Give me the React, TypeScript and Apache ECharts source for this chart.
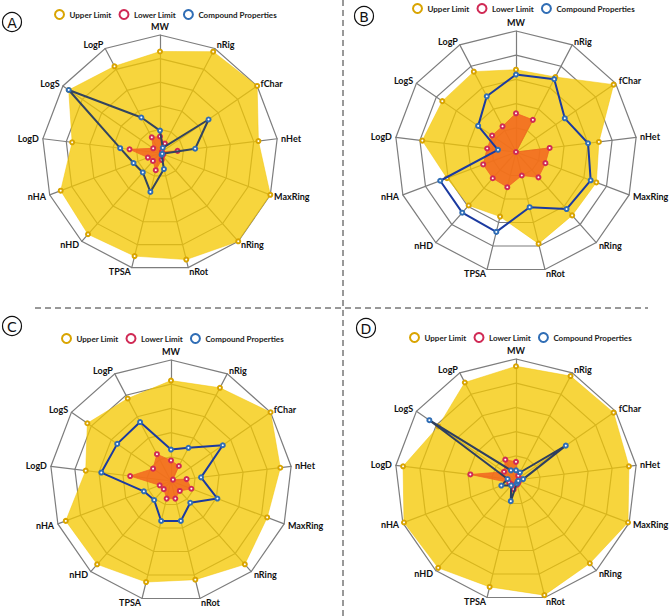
import React, { useEffect, useRef } from "react";
import * as echarts from "echarts";

// Clockwise from the top
const indicators = ["MW", "nRig", "fChar", "nHet", "MaxRing", "nRing", "nRot", "TPSA", "nHD", "nHA", "LogD", "LogS", "LogP"];
const seriesNames = ["Upper Limit", "Lower Limit", "Compound Properties"];
const panelLabels = ["A", "B", "C", "D"];

const upperA = [86, 97, 100, 84, 100, 100, 93, 90, 92, 90, 75, 94, 83];
const lowerA = [14, 9, 2, 15, 3, 3, 6, 15, 9, 11, 26, 7, 15];
const compoundA = [19, 5, 50, 30, 2, 2, 14, 34, 22, 24, 34, 94, 34];

const upperB = [68, 70, 98, 69, 71, 70, 78, 55, 59, 61, 78, 74, 75];
const lowerB = [32, 30, 0, 28, 26, 28, 20, 30, 29, 29, 24, 24, 24];
const compoundB = [64, 68, 49, 60, 66, 63, 47, 68, 67, 67, 15, 38, 52];

const upperC = [83, 87, 100, 91, 85, 92, 84, 86, 92, 93, 71, 84, 77];
const lowerC = [17, 14, 2, 13, 18, 11, 15, 15, 9, 10, 34, 18, 25];
const compoundC = [26, 31, 52, 25, 41, 24, 34, 34, 21, 24, 58, 54, 55];

const upperD = [94, 97, 98, 94, 99, 92, 98, 91, 97, 99, 94, 78, 91];
const lowerD = [15, 4, 3, 4, 2, 3, 4, 8, 5, 6, 38, 12, 19];
const compoundD = [8, 7, 50, 6, 2, 2, 3, 18, 6, 13, 7, 87, 9];

const panels = [
  { upper: upperA, lower: lowerA, compound: compoundA },
  { upper: upperB, lower: lowerB, compound: compoundB },
  { upper: upperC, lower: lowerC, compound: compoundC },
  { upper: upperD, lower: lowerD, compound: compoundD },
];

// layout
const centers = [[160, 153], [516, 152], [171, 481], [516, 480]];
const radii = [118, 121, 121, 121];
const legendPos = [[54, 9], [412, 3], [61, 333], [409, 332]];
const labelPos = [[12, 22], [364, 16], [12, 326], [366, 328]];
const compoundLineColors = ["#33445f", "#1b3aa0", "#1b3aa0", "#2e3f60"];

// ECharts lays indicators counter-clockwise; reorder clockwise data
const ccw = <T,>(arr: T[]): T[] => [arr[0], ...arr.slice(1).reverse()];

const FONT = "Lato, 'Open Sans', sans-serif";

export default function App() {
  const ref = useRef<HTMLDivElement>(null);
  useEffect(() => {
    document.body.style.margin = "0";
    if (!ref.current) return;
    const chart = echarts.init(ref.current, null, { renderer: "svg" });

    const radar = centers.map((c, i) => ({
      center: c,
      radius: radii[i],
      startAngle: 90,
      splitNumber: 5,
      shape: "polygon",
      indicator: ccw(indicators).map((n) => ({ name: n, min: 0, max: 100 })),
      axisName: { color: "#111", fontSize: 9, fontWeight: "bold", fontFamily: FONT },
      nameGap: 4,
      splitLine: { lineStyle: { color: "#7d7d7d", width: 1.2 } },
      splitArea: { show: false },
      axisLine: { lineStyle: { color: "#7d7d7d", width: 1.2 } },
      axisTick: { show: false },
      axisLabel: { show: false },
    }));

    const series: any[] = [];
    panels.forEach((p, i) => {
      series.push({
        type: "radar",
        radarIndex: i,
        symbol: "emptyCircle",
        symbolSize: 4,
        z: 2,
        data: [
          {
            name: seriesNames[0],
            value: ccw(p.upper),
            itemStyle: { color: "#d9a400", borderWidth: 1 },
            lineStyle: { color: "#f0c000", width: 0.8, opacity: 0.6 },
            areaStyle: { color: "#f5c800", opacity: 0.76 },
          },
        ],
      });
      series.push({
        type: "radar",
        radarIndex: i,
        symbol: "emptyCircle",
        symbolSize: 4,
        z: 3,
        data: [
          {
            name: seriesNames[1],
            value: ccw(p.lower),
            itemStyle: { color: "#d02a55", borderWidth: 1 },
            lineStyle: { color: "#f06a2a", width: 0.8 },
            areaStyle: { color: "#f2651f", opacity: 0.85 },
          },
        ],
      });
      series.push({
        type: "radar",
        radarIndex: i,
        symbol: "emptyCircle",
        symbolSize: 4,
        z: 4,
        data: [
          {
            name: seriesNames[2],
            value: ccw(p.compound),
            itemStyle: { color: "#2f6db5", borderWidth: 1 },
            lineStyle: { color: compoundLineColors[i], width: 2 },
          },
        ],
      });
    });

    const legend = legendPos.map((pos) => ({
      left: pos[0],
      top: pos[1],
      width: 240,
      padding: 0,
      itemWidth: 10,
      itemHeight: 9,
      itemGap: 7,
      selectedMode: false,
      itemStyle: { borderWidth: 1.8 },
      textStyle: { fontSize: 8, fontWeight: "bold", color: "#222", fontFamily: FONT },
      data: seriesNames.map((n) => ({ name: n, icon: "emptyCircle" })),
    }));

    const graphic: any[] = [];
    labelPos.forEach((pos, i) => {
      graphic.push({
        type: "circle",
        shape: { cx: pos[0], cy: pos[1], r: 9.5 },
        style: { fill: "#fff", stroke: "#111", lineWidth: 1.2 },
      });
      graphic.push({
        type: "text",
        x: pos[0],
        y: pos[1] + 0.5,
        style: {
          text: panelLabels[i],
          fontSize: 14,
          fontFamily: "'DejaVu Sans', sans-serif",
          fill: "#111",
          align: "center",
          verticalAlign: "middle",
        },
      });
    });
    graphic.push({
      type: "line",
      shape: { x1: 343, y1: 0, x2: 343, y2: 616 },
      style: { stroke: "#333", lineWidth: 1, lineDash: [6, 4] },
    });
    graphic.push({
      type: "line",
      shape: { x1: 35, y1: 308, x2: 648, y2: 308 },
      style: { stroke: "#333", lineWidth: 1, lineDash: [6, 4] },
    });

    chart.setOption({
      animation: false,
      backgroundColor: "#fff",
      radar,
      legend,
      series,
      graphic,
    });
    return () => chart.dispose();
  }, []);
  return <div ref={ref} style={{ width: 669, height: 616 }} />;
}
